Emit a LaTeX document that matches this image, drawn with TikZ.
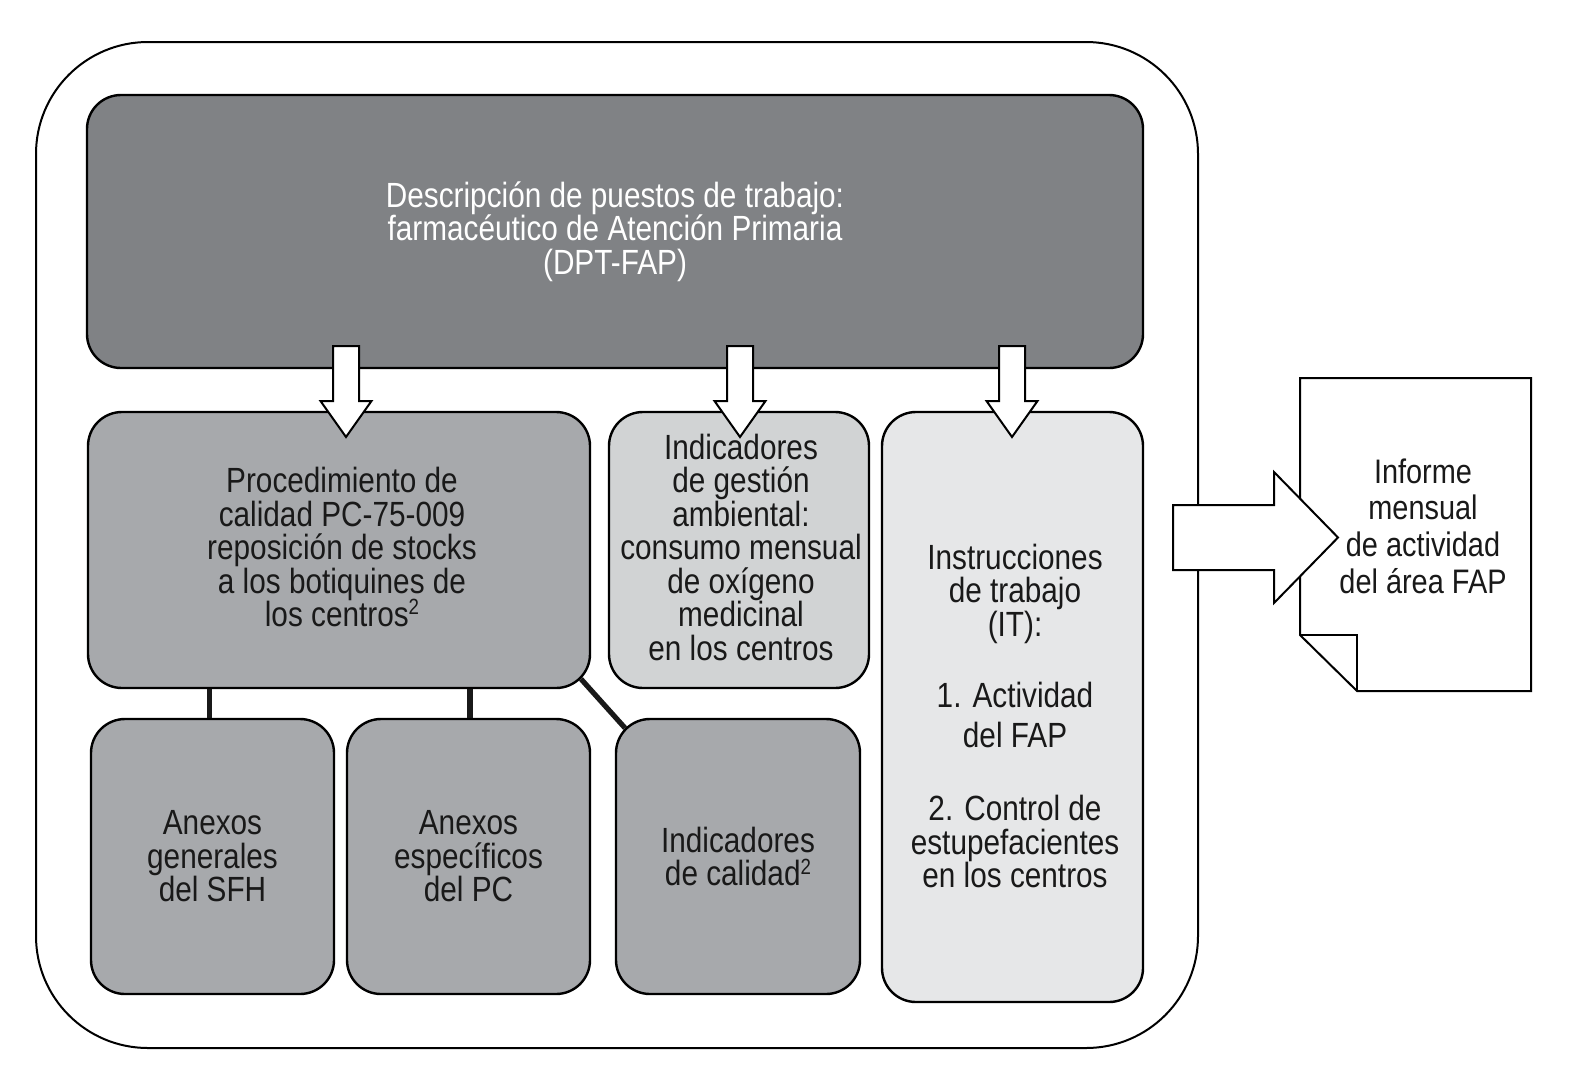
\documentclass[tikz,border=0pt]{standalone}
\usepackage{fontspec}
\setmainfont{Liberation Sans}[FakeStretch=0.85]
\usetikzlibrary{calc}
\definecolor{gA}{HTML}{808285}
\definecolor{gB}{HTML}{A7A9AC}
\definecolor{gC}{HTML}{D1D3D4}
\definecolor{gD}{HTML}{E6E7E8}
\newcommand\txtfont{\fontsize{17.5}{16.75}\selectfont\lineskiplimit=-30pt}
\newcommand\topfont{\fontsize{17.5}{16.75}\selectfont\lineskiplimit=-30pt}
\newcommand\docfont{\fontsize{17}{18.3}\selectfont\lineskiplimit=-30pt}
\newcommand\supnum[1]{\raisebox{0.33em}{\fontsize{11}{11}\selectfont #1}}
\newcommand\dnarrow[1]{\draw[blockarrow] (#1-13,346) -- (#1+13,346) -- (#1+13,401) -- (#1+25.5,401) -- (#1,437) -- (#1-25.5,401) -- (#1-13,401) -- cycle;}
\tikzset{
  frame/.style={draw=black, line width=1pt, rounded corners=56pt, inner sep=0pt},
  box/.style={draw=black, line width=1.2pt, rounded corners=17pt, inner sep=0pt, align=center, font=\txtfont, text=black!90},
  conn/.style={line width=2.6pt, draw=black!90},
  blockarrow/.style={draw=black, fill=white, line width=1pt, line join=miter},
  plain/.style={inner sep=0pt, align=center},
}
\begin{document}
\begin{tikzpicture}[x=0.5pt, y=-0.5pt]
\useasboundingbox (0,0) rectangle (1583,1066);
% outer frame
\node[frame, minimum width=581pt, minimum height=503pt] (outer) at (617,545) {};
% top box
\node[box, fill=gA, text=white, font=\topfont, minimum width=528pt, minimum height=136.5pt] (top) at (615,231.5)
  {Descripción de puestos de trabajo:\\ farmacéutico de Atención Primaria\\ (DPT-FAP)};
% middle row
\node[box, fill=gB, minimum width=251pt, minimum height=138pt] (mid1) at (339,550) {};
\node[plain, font=\txtfont, text=black!90] (mid1text) at (342,547)
  {Procedimiento de\\ calidad PC-75-009\\ reposición de stocks\\ a los botiquines de\\ los centros\supnum{2}};
\node[box, fill=gC, minimum width=130pt, minimum height=138pt] (mid2) at (739,550) {};
\node[plain, font=\txtfont, text=black!90] (mid2text) at (741,547)
  {Indicadores\\ de gestión\\ ambiental:\\ consumo mensual\\ de oxígeno\\ medicinal\\ en los centros};
\node[box, fill=gD, minimum width=130.5pt, minimum height=295pt] (box3) at (1012.5,707) {};
\node[plain, font=\txtfont, text=black!90] (box3text) at (1015,716)
  {Instrucciones\\ de trabajo\\ (IT):\\[19pt] 1. Actividad\\[3pt] del FAP\\[20pt] 2. Control de\\ estupefacientes\\ en los centros};
% bottom row
\node[box, fill=gB, minimum width=121.5pt, minimum height=137.5pt] (b1) at (212.5,856.5)
  {Anexos\\ generales\\ del SFH};
\node[box, fill=gB, minimum width=121.5pt, minimum height=137.5pt] (b2) at (468.5,856.5)
  {Anexos\\ específicos\\ del PC};
\node[box, fill=gB, minimum width=122pt, minimum height=137.5pt] (b3) at (738,856.5)
  {Indicadores\\ de calidad\supnum{2}};
% connectors
\draw[conn] (b1.north -| 209.5,0) -- (209.5,0 |- mid1.south);
\draw[conn] (b2.north -| 470,0) -- (470,0 |- mid1.south);
\draw[conn] ($(mid1.south east)+(-10.3,-10.3)$) -- ($(b3.north west)+(10.3,10.3)$);
% down block arrows
\dnarrow{346}
\dnarrow{740}
\dnarrow{1012}
% document
\draw[line width=1pt, fill=white, line join=miter] (1300,378) -- (1531,378) -- (1531,691) -- (1357,691) -- (1300,635) -- cycle;
\draw[line width=1pt, line join=miter] (1300,635) -- (1357,635) -- (1357,691);
\node[plain, font=\docfont, text=black!90] (doc) at (1423,526)
  {Informe\\ mensual\\ de actividad\\ del área FAP};
% right block arrow
\draw[blockarrow] (1173,505) -- (1274,505) -- (1274,472) -- (1338,537.5) -- (1274,603) -- (1274,570) -- (1173,570) -- cycle;
\end{tikzpicture}
\end{document}
